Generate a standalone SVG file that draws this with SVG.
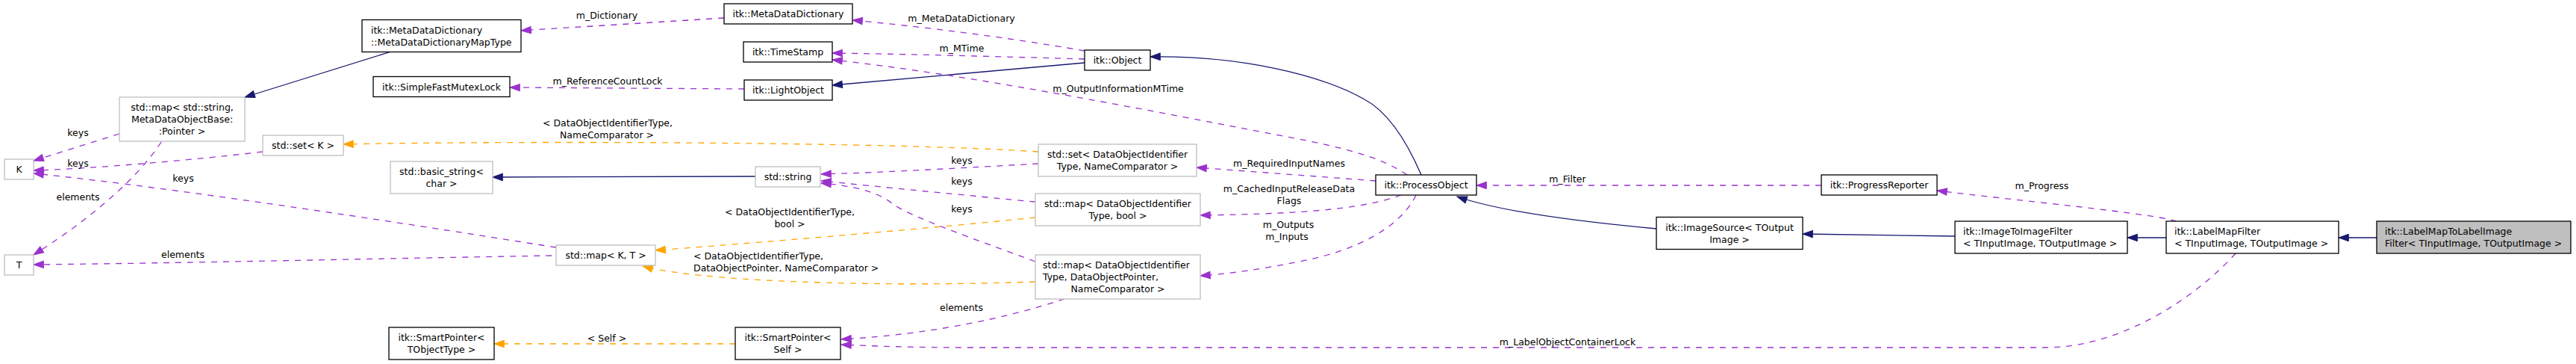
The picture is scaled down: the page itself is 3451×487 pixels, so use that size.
<svg xmlns="http://www.w3.org/2000/svg" width="3451" height="487" viewBox="0 0 3451 487">
<style>
text{font-family:"DejaVu Sans","Liberation Sans",sans-serif;font-size:12.5px;fill:#000}
.c{text-anchor:middle}
.l{text-anchor:start}
.nb{fill:#fff;stroke:#000;stroke-width:1.3}
.ng{fill:#fff;stroke:#bfbfbf;stroke-width:1.3}
.nf{fill:#bfbfbf;stroke:#000;stroke-width:1.3}
.inh{fill:none;stroke:#191970;stroke-width:1.3;marker-end:url(#mN)}
.use{fill:none;stroke:#9a32cd;stroke-width:1.3;stroke-dasharray:8,8;marker-end:url(#mP)}
.tpl{fill:none;stroke:#ffa500;stroke-width:1.3;stroke-dasharray:8,8;marker-end:url(#mO)}
</style>
<defs>
<marker id="mN" markerUnits="userSpaceOnUse" markerWidth="14" markerHeight="10" viewBox="0 0 14 10" refX="13.3" refY="4.7" orient="auto" overflow="visible"><path d="M0,0 L13.3,4.7 L0,9.4 z" fill="#191970" stroke="#191970" stroke-dasharray="none"/></marker>
<marker id="mP" markerUnits="userSpaceOnUse" markerWidth="14" markerHeight="10" viewBox="0 0 14 10" refX="13.3" refY="4.7" orient="auto" overflow="visible"><path d="M0,0 L13.3,4.7 L0,9.4 z" fill="#9a32cd" stroke="#9a32cd" stroke-dasharray="none"/></marker>
<marker id="mO" markerUnits="userSpaceOnUse" markerWidth="14" markerHeight="10" viewBox="0 0 14 10" refX="13.3" refY="4.7" orient="auto" overflow="visible"><path d="M0,0 L13.3,4.7 L0,9.4 z" fill="#ffa500" stroke="#ffa500" stroke-dasharray="none"/></marker>
</defs>
<rect x="0" y="0" width="3451" height="487" fill="#fff"/>

<g id="connectors">
<path class="inh" d="M524,69 L328,130"/>
<path class="use" d="M160,179 L45,215"/>
<path class="use" d="M216,190 C180,245 110,300 45,341"/>
<path class="use" d="M352,203 C260,214 120,226 45,228"/>
<path class="use" d="M745,331 C600,308 250,253 45,232"/>
<path class="use" d="M739,342 C500,346 250,352 45,354"/>
<path class="tpl" d="M1391,203 C1200,190 700,188 460,193"/>
<path class="use" d="M1391,219 C1300,224 1180,231 1100,233"/>
<path class="use" d="M1387,270 C1300,262 1180,250 1100,242"/>
<path class="use" d="M1387,350 C1300,318 1215,288 1195,272 C1175,256 1140,248 1100,245"/>
<path class="tpl" d="M1387,291 C1250,305 1050,322 878,335"/>
<path class="tpl" d="M1387,377 C1150,385 930,375 861,356"/>
<path class="use" d="M1426,400 C1350,425 1250,447 1127,454"/>
<path class="inh" d="M1012,236 L660,237"/>
<path class="tpl" d="M985,460 L662,460"/>
<path class="use" d="M970,24 L698,41"/>
<path class="use" d="M997,119 L683,117"/>
<path class="use" d="M1453,68 C1350,50 1230,35 1142,27"/>
<path class="use" d="M1453,79 C1350,76 1200,72 1115,71"/>
<path class="inh" d="M1453,84 L1115,114"/>
<path class="inh" d="M1904,234 C1885,190 1860,150 1828,133 C1770,100 1660,74 1541,76"/>
<path class="use" d="M1885,234 C1850,210 1800,198 1740,186 C1540,148 1300,100 1115,80"/>
<path class="use" d="M1843,242 L1603,224"/>
<path class="use" d="M1877,261 C1830,278 1760,286 1608,288"/>
<path class="use" d="M1897,261 C1877,303 1818,336 1740,350 C1690,360 1650,366 1608,369"/>
<path class="use" d="M2440,248 L1978,248"/>
<path class="inh" d="M2219,306 C2120,297 2010,283 1952,263"/>
<path class="inh" d="M2619,316 L2415,313"/>
<path class="inh" d="M2902,318 L2850,318"/>
<path class="use" d="M2916,296 C2880,285 2700,268 2595,255"/>
<path class="use" d="M2995,339 C2940,400 2840,465 2740,465 L1300,465 C1220,465 1170,463 1127,461"/>
<path class="inh" d="M3184,318 L3133,318"/>
</g>

<g id="edge-labels">
<text class="c" x="104.5" y="181.5">keys</text>
<text class="c" x="104.5" y="222.5">keys</text>
<text class="c" x="104.5" y="267.5">elements</text>
<text class="c" x="245.5" y="242.5">keys</text>
<text class="c" x="245" y="344.5">elements</text>
<text class="c" x="813" y="25">m_Dictionary</text>
<text class="c" x="814" y="112.5">m_ReferenceCountLock</text>
<text class="c" x="814" y="168.5">&lt; DataObjectIdentifierType,</text>
<text class="c" x="813" y="184.5">NameComparator &gt;</text>
<text class="c" x="1058" y="287.5">&lt; DataObjectIdentifierType,</text>
<text class="c" x="1058" y="303.5">bool &gt;</text>
<text class="l" x="929" y="346.5">&lt; DataObjectIdentifierType,</text>
<text class="l" x="929" y="362.5">DataObjectPointer, NameComparator &gt;</text>
<text class="c" x="813" y="456.5">&lt; Self &gt;</text>
<text class="c" x="1288" y="29">m_MetaDataDictionary</text>
<text class="c" x="1288.5" y="68.5">m_MTime</text>
<text class="c" x="1498" y="122.5">m_OutputInformationMTime</text>
<text class="c" x="1288.5" y="218.5">keys</text>
<text class="c" x="1288.5" y="247">keys</text>
<text class="c" x="1288.5" y="283.5">keys</text>
<text class="c" x="1288" y="416">elements</text>
<text class="c" x="1727" y="222.5">m_RequiredInputNames</text>
<text class="c" x="1727" y="257">m_CachedInputReleaseData</text>
<text class="c" x="1727" y="273">Flags</text>
<text class="c" x="1726" y="305">m_Outputs</text>
<text class="c" x="1724" y="321">m_Inputs</text>
<text class="c" x="2100" y="243.5">m_Filter</text>
<text class="c" x="2735.5" y="252.5">m_Progress</text>
<text class="c" x="2100" y="461.5">m_LabelObjectContainerLock</text>
</g>

<g id="n_MetaDataDictionaryMapType"><rect class="nb" x="485" y="26.5" width="213" height="43"/><text class="l" x="497" y="44.5">itk::MetaDataDictionary</text><text class="l" x="497" y="60.5">::MetaDataDictionaryMapType</text></g>
<g id="n_mapStringPointer"><rect class="ng" x="160" y="130" width="168" height="59"/><text class="c" x="244" y="148">std::map&lt; std::string,</text><text class="c" x="244" y="164">MetaDataObjectBase:</text><text class="c" x="244" y="180">:Pointer &gt;</text></g>
<g id="n_K"><rect class="ng" x="6" y="213" width="39" height="27"/><text class="c" x="25.5" y="231">K</text></g>
<g id="n_T"><rect class="ng" x="6" y="341" width="39" height="27"/><text class="c" x="25.5" y="359">T</text></g>
<g id="n_setK"><rect class="ng" x="352" y="181" width="108" height="27"/><text class="c" x="406" y="199">std::set&lt; K &gt;</text></g>
<g id="n_SimpleFastMutexLock"><rect class="nb" x="500" y="102.5" width="183" height="27"/><text class="c" x="591.5" y="120.5">itk::SimpleFastMutexLock</text></g>
<g id="n_basic_string"><rect class="ng" x="523" y="216" width="137" height="43"/><text class="c" x="591.5" y="234">std::basic_string&lt;</text><text class="c" x="591.5" y="250">char &gt;</text></g>
<g id="n_SmartPointerTObjectType"><rect class="nb" x="521" y="438" width="141" height="43"/><text class="c" x="591.5" y="456">itk::SmartPointer&lt;</text><text class="c" x="591.5" y="472">TObjectType &gt;</text></g>
<g id="n_MetaDataDictionary"><rect class="nb" x="970" y="5" width="172" height="27"/><text class="c" x="1056" y="23">itk::MetaDataDictionary</text></g>
<g id="n_TimeStamp"><rect class="nb" x="996" y="56" width="119" height="27"/><text class="c" x="1055.5" y="74">itk::TimeStamp</text></g>
<g id="n_LightObject"><rect class="nb" x="997" y="107" width="118" height="27"/><text class="c" x="1056" y="125">itk::LightObject</text></g>
<g id="n_string"><rect class="ng" x="1012" y="223" width="87" height="27"/><text class="c" x="1055.5" y="241">std::string</text></g>
<g id="n_mapKT"><rect class="ng" x="745" y="328" width="133" height="27"/><text class="c" x="811.5" y="346">std::map&lt; K, T &gt;</text></g>
<g id="n_SmartPointerSelf"><rect class="nb" x="985" y="438" width="141" height="43"/><text class="c" x="1055.5" y="456">itk::SmartPointer&lt;</text><text class="c" x="1055.5" y="472">Self &gt;</text></g>
<g id="n_Object"><rect class="nb" x="1453" y="67" width="88" height="27"/><text class="c" x="1497" y="85">itk::Object</text></g>
<g id="n_setDOI"><rect class="ng" x="1391" y="193" width="212" height="43"/><text class="c" x="1497" y="211">std::set&lt; DataObjectIdentifier</text><text class="c" x="1497" y="227">Type, NameComparator &gt;</text></g>
<g id="n_mapBool"><rect class="ng" x="1387" y="259" width="221" height="43"/><text class="c" x="1497.5" y="277">std::map&lt; DataObjectIdentifier</text><text class="c" x="1497.5" y="293">Type, bool &gt;</text></g>
<g id="n_mapDOP"><rect class="ng" x="1387" y="341" width="221" height="59"/><text class="l" x="1397" y="359">std::map&lt; DataObjectIdentifier</text><text class="l" x="1397" y="375">Type, DataObjectPointer,</text><text class="c" x="1497.5" y="391">NameComparator &gt;</text></g>
<g id="n_ProcessObject"><rect class="nb" x="1843" y="234" width="135" height="27"/><text class="c" x="1910.5" y="252">itk::ProcessObject</text></g>
<g id="n_ProgressReporter"><rect class="nb" x="2440" y="234" width="155" height="27"/><text class="c" x="2517.5" y="252">itk::ProgressReporter</text></g>
<g id="n_ImageSource"><rect class="nb" x="2219" y="290.5" width="196" height="43"/><text class="c" x="2317" y="308.5">itk::ImageSource&lt; TOutput</text><text class="c" x="2317" y="324.5">Image &gt;</text></g>
<g id="n_ImageToImageFilter"><rect class="nb" x="2619" y="296" width="231" height="43"/><text class="l" x="2630" y="314">itk::ImageToImageFilter</text><text class="l" x="2630" y="330">&lt; TInputImage, TOutputImage &gt;</text></g>
<g id="n_LabelMapFilter"><rect class="nb" x="2902" y="296" width="231" height="43"/><text class="l" x="2913" y="314">itk::LabelMapFilter</text><text class="l" x="2913" y="330">&lt; TInputImage, TOutputImage &gt;</text></g>
<g id="n_LabelMapToLabelImageFilter"><rect class="nf" x="3184" y="296" width="260" height="43"/><text class="l" x="3195" y="314">itk::LabelMapToLabelImage</text><text class="l" x="3195" y="330">Filter&lt; TInputImage, TOutputImage &gt;</text></g>
</svg>
